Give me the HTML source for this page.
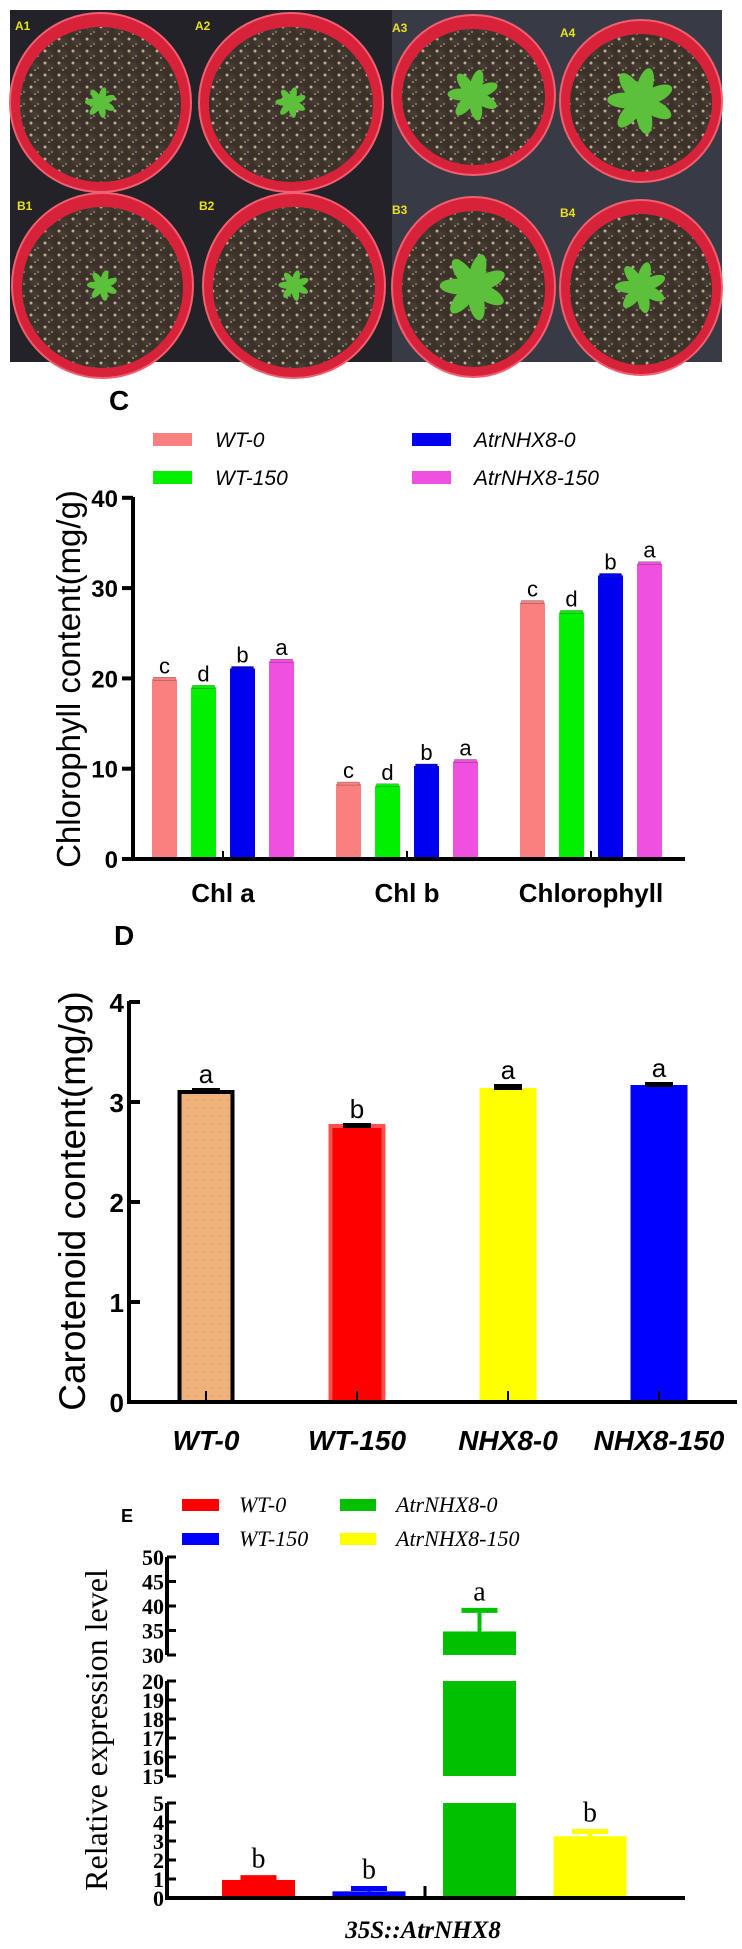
<!DOCTYPE html>
<html><head><meta charset="utf-8"><style>
html,body{margin:0;padding:0;background:#fff;}
svg{display:block;}
.sb{font-family:"Liberation Sans",sans-serif;font-weight:bold;}
.s{font-family:"Liberation Sans",sans-serif;}
.sf{font-family:"Liberation Serif",serif;}
</style></head><body>
<svg id="fig" width="742" height="1949" viewBox="0 0 742 1949" xmlns="http://www.w3.org/2000/svg">
<defs>
<radialGradient id="soil" cx="50%" cy="50%" r="50%"><stop offset="0" stop-color="#4a3f36"/><stop offset="1" stop-color="#3a3129"/></radialGradient>
<pattern id="speck" width="14" height="12" patternUnits="userSpaceOnUse"><rect width="14" height="12" fill="url(#soil)"/><circle cx="3" cy="3" r="1.5" fill="#b9ad98"/><circle cx="10" cy="8" r="1" fill="#8d8170"/><circle cx="7" cy="10" r="0.8" fill="#d0c6b2"/></pattern>
<pattern id="dots" width="8" height="8" patternUnits="userSpaceOnUse"><rect width="8" height="8" fill="#efb27a"/><circle cx="4" cy="4" r="0.8" fill="#d89a60"/></pattern>
</defs>

<!-- Photo panel -->
<g>
<rect x="10" y="10" width="382" height="352" fill="#222228"/>
<rect x="392" y="10" width="330" height="352" fill="#383a46"/>
<g id="pots"></g>
</g>

<!-- Panel C -->
<g id="panelC">
<text class="sb" x="109" y="410" font-size="28">C</text>
<rect x="153" y="433" width="39" height="13" fill="#fa8080"/>
<text class="s" x="215" y="447" font-size="21" font-style="italic">WT-0</text>
<rect x="153" y="471" width="39" height="13" fill="#00f000"/>
<text class="s" x="215" y="485" font-size="21" font-style="italic">WT-150</text>
<rect x="412" y="433" width="39" height="13" fill="#0000f0"/>
<text class="s" x="474" y="447" font-size="21" font-style="italic">AtrNHX8-0</text>
<rect x="412" y="471" width="39" height="13" fill="#f050e0"/>
<text class="s" x="474" y="485" font-size="21" font-style="italic">AtrNHX8-150</text>
<text class="s" x="0" y="0" font-size="33" text-anchor="middle" transform="translate(80,679) rotate(-90)">Chlorophyll content(mg/g)</text>
<g id="cBars"></g>
<g id="cAxis"></g>
</g>

<!-- Panel D -->
<g id="panelD">
<text class="sb" x="114" y="945" font-size="28">D</text>
<text class="s" x="0" y="0" font-size="37" text-anchor="middle" transform="translate(85,1201) rotate(-90)">Carotenoid content(mg/g)</text>
<g id="dBars"></g>
<g id="dAxis"></g>
</g>

<!-- Panel E -->
<g id="panelE">
<text class="sb" x="121" y="1522" font-size="18">E</text>
<rect x="182" y="1499" width="37" height="12" fill="#ff0000"/>
<text class="sf" x="239" y="1512" font-size="22" font-style="italic">WT-0</text>
<rect x="182" y="1533" width="37" height="12" fill="#0000ff"/>
<text class="sf" x="239" y="1546" font-size="22" font-style="italic">WT-150</text>
<rect x="340" y="1499" width="36" height="12" fill="#00c000"/>
<text class="sf" x="396" y="1512" font-size="22" font-style="italic">AtrNHX8-0</text>
<rect x="340" y="1533" width="36" height="12" fill="#ffff00"/>
<text class="sf" x="396" y="1546" font-size="22" font-style="italic">AtrNHX8-150</text>
<text class="sf" x="0" y="0" font-size="32" text-anchor="middle" transform="translate(107,1730) rotate(-90)">Relative expression level</text>
<text class="sf" x="423" y="1938" font-size="25" font-weight="bold" font-style="italic" text-anchor="middle">35S::AtrNHX8</text>
<g id="eBars"></g>
<g id="eAxis"></g>
</g>
</svg>

<script>
// ---------- Panel C data ----------
const cCategories = ["Chl a", "Chl b", "Chlorophyll"];
const cSeriesNames = ["WT-0", "WT-150", "AtrNHX8-0", "AtrNHX8-150"];
const cWT0 = [19.9, 8.3, 28.4];
const cWT150 = [19.0, 8.1, 27.3];
const cNHX0 = [21.1, 10.3, 31.4];
const cNHX150 = [21.9, 10.8, 32.7];
const cLetters = [["c","c","c"],["d","d","d"],["b","b","b"],["a","a","a"]];
const cTicks = [0, 10, 20, 30, 40];

// ---------- Panel D data ----------
const dCategories = ["WT-0", "WT-150", "NHX8-0", "NHX8-150"];
const dValues = [3.10, 2.76, 3.14, 3.17];
const dErrors = [0.04, 0.03, 0.04, 0.03];
const dLetters = ["a", "b", "a", "a"];
const dTicks = [0, 1, 2, 3, 4];

// ---------- Panel E data ----------
const eSeries = ["WT-0", "WT-150", "AtrNHX8-0", "AtrNHX8-150"];
const eValues = [0.95, 0.35, 34.8, 3.25];
const eErrors = [0.12, 0.15, 4.3, 0.25];
const eLetters = ["b", "b", "a", "b"];
const eTicks = [0,1,2,3,4,5,15,16,17,18,19,20,30,35,40,45,50];

const NS = "http://www.w3.org/2000/svg";
function mk(tag, attrs, parent){ const e=document.createElementNS(NS,tag); for(const k in attrs) e.setAttribute(k, attrs[k]); parent.appendChild(e); return e; }

// ---------- Photo ----------
(function(){
  const g=document.getElementById('pots');
  const pots=[[10,13,181,179,"A1",0.6],[199,13,184,179,"A2",0.6],[392,15,163,160,"A3",1],[560,20,162,162,"A4",1.3],
              [12,193,181,185,"B1",0.6],[203,193,182,185,"B2",0.6],[392,197,163,180,"B3",1.3],[560,200,162,175,"B4",1]];
  pots.forEach(p=>{
    const cx=p[0]+p[2]/2, cy=p[1]+p[3]/2;
    const pot=mk('ellipse',{cx:cx,cy:cy,rx:p[2]/2,ry:p[3]/2,fill:'#d8223a',stroke:'#f06070','stroke-width':2},g);
    
    
    const soil=mk('ellipse',{cx:cx,cy:cy+2,rx:p[2]/2-10,ry:p[3]/2-12,fill:'url(#speck)'},g);
    
    
    const pl=mk('g',{},g);
    
    
    const s=p[5];
    for(let i=0;i<7;i++){
      const a=i*360/7+15;
      mk('ellipse',{cx:cx,cy:cy-12*s,rx:6*s,ry:14*s,fill:'#5cc03a',transform:'rotate('+a+' '+cx+' '+cy+')'},pl);
    }
    const t=mk('text',{x:p[0]+(p[4][1]=='1'?5:(p[4]=='A2'||p[4]=='B2'?-4:0)),y:p[1]+17,'font-size':12,fill:'#e8e020',class:'sb'},g);
    t.textContent=p[4];
    
    
  });
})();

// ---------- Panel C ----------
(function(){
  const bars=document.getElementById('cBars'), ax=document.getElementById('cAxis');
  const y=v=>859-v*9.03;
  const groupX=i=>223+i*184;
  const offs=[-58.5,-19.5,19.5,58.5];
  const cols=["#fa8080","#00f000","#0000f0","#f050e0"];
  const series=[cWT0,cWT150,cNHX0,cNHX150];
  series.forEach((vals,s)=>{
    vals.forEach((v,i)=>{
      const cx=groupX(i)+offs[s];
      const r=mk('rect',{x:cx-12.5,y:y(v),width:25,height:859-y(v),fill:cols[s]},bars);
      
      
      mk('rect',{x:cx-11,y:y(v)-2,width:22,height:3,fill:cols[s],stroke:'#333','stroke-width':0.3},bars);
      const t=mk('text',{x:cx,y:y(v)-6,'font-size':22,'text-anchor':'middle',class:'s'},bars);
      t.textContent=cLetters[s][i];
      
      
    });
  });
  mk('line',{x1:133,y1:497,x2:133,y2:861,stroke:'#000','stroke-width':4},ax);
  mk('line',{x1:131,y1:859,x2:685,y2:859,stroke:'#000','stroke-width':4},ax);
  cTicks.forEach(v=>{
    mk('line',{x1:122,y1:y(v),x2:133,y2:y(v),stroke:'#000','stroke-width':4},ax);
    const t=mk('text',{x:118,y:y(v)+9,'font-size':24,'text-anchor':'end',class:'sb'},ax);
    t.textContent=v;
    
    
  });
  cCategories.forEach((c,i)=>{
    mk('line',{x1:groupX(i),y1:851,x2:groupX(i),y2:859,stroke:'#000','stroke-width':2},ax);
    const t=mk('text',{x:groupX(i),y:902,'font-size':26,'text-anchor':'middle',class:'sb'},ax);
    t.textContent=c;
    
    
  });
})();

// ---------- Panel D ----------
(function(){
  const bars=document.getElementById('dBars'), ax=document.getElementById('dAxis');
  const y=v=>1402-v*100;
  const xc=i=>206+i*151;
  const fills=["url(#dots)","#ff0000","#ffff00","#0000ff"];
  dValues.forEach((v,i)=>{
    const attrs={x:xc(i)-28.5,y:y(v),width:57,height:1402-y(v),fill:fills[i]};
    if(i===0){attrs.stroke='#000';attrs['stroke-width']=4;attrs.x+=2;attrs.width-=4;}
    if(i===1){attrs.stroke='#ff5050';attrs['stroke-width']=4;attrs.x+=2;attrs.width-=4;}
    const r=mk('rect',attrs,bars);
    
    
    const e=mk('rect',{x:xc(i)-14,y:y(v+dErrors[i]),width:28,height:y(v)-y(v+dErrors[i])+2,fill:'#000'},bars);
    
    
    const t=mk('text',{x:xc(i),y:y(v+dErrors[i])-5,'font-size':26,'text-anchor':'middle',class:'s'},bars);
    t.textContent=dLetters[i];
    
    
  });
  mk('line',{x1:129,y1:1001,x2:129,y2:1404,stroke:'#000','stroke-width':4},ax);
  mk('line',{x1:127,y1:1402,x2:737,y2:1402,stroke:'#000','stroke-width':4},ax);
  dTicks.forEach(v=>{
    mk('line',{x1:129,y1:y(v),x2:140,y2:y(v),stroke:'#000','stroke-width':4},ax);
    const t=mk('text',{x:124,y:y(v)+10,'font-size':26,'text-anchor':'end',class:'sb'},ax);
    t.textContent=v;
    
    
  });
  dCategories.forEach((c,i)=>{
    mk('line',{x1:xc(i),y1:1391,x2:xc(i),y2:1402,stroke:'#000','stroke-width':2},ax);
    const t=mk('text',{x:xc(i),y:1450,'font-size':28,'text-anchor':'middle','font-style':'italic',class:'sb'},ax);
    t.textContent=c;
    
    
  });
})();

// ---------- Panel E ----------
(function(){
  const bars=document.getElementById('eBars'), ax=document.getElementById('eAxis');
  const segs=[[0,5,1898,19],[15,20,1776,19],[30,50,1655,4.9]];
  const y=v=>{ if(v<=5) return 1898-19*v; if(v<=20) return 1776-19*(Math.max(v,15)-15); return 1655-4.9*(Math.max(v,30)-30); };
  const xc=i=>258.5+i*110.5;
  const cols=["#ff0000","#0000ff","#00c000","#ffff00"];
  eValues.forEach((v,i)=>{
    segs.forEach(sg=>{
      if(v>sg[0]){
        const top=y(Math.min(v,sg[1])), bot=y(sg[0]);
        const r=mk('rect',{x:xc(i)-36.5,y:top,width:73,height:bot-top,fill:cols[i]},bars);
        
        
      }
    });
    const yt=y(v+eErrors[i]);
    mk('line',{x1:xc(i),y1:y(v),x2:xc(i),y2:yt,stroke:cols[i],'stroke-width':4},bars);
    const cap=mk('line',{x1:xc(i)-18,y1:yt,x2:xc(i)+18,y2:yt,stroke:cols[i],'stroke-width':5},bars);
    
    
    const t=mk('text',{x:xc(i),y:yt-10,'font-size':28,'text-anchor':'middle',class:'sf'},bars);
    t.textContent=eLetters[i];
    
    
  });
  segs.forEach(sg=>{
    mk('line',{x1:167,y1:y(sg[1]),x2:167,y2:y(sg[0]),stroke:'#000','stroke-width':4},ax);
  });
  mk('line',{x1:165,y1:1898,x2:685,y2:1898,stroke:'#000','stroke-width':4},ax);
  mk('line',{x1:425,y1:1886,x2:425,y2:1898,stroke:'#000','stroke-width':3},ax);
  eTicks.forEach(v=>{
    mk('line',{x1:167,y1:y(v),x2:176,y2:y(v),stroke:'#000','stroke-width':3},ax);
    const t=mk('text',{x:164,y:y(v)+8,'font-size':22,'text-anchor':'end','font-weight':'bold',class:'sf'},ax);
    t.textContent=v;
    
    
  });
})();
</script>
</body></html>
